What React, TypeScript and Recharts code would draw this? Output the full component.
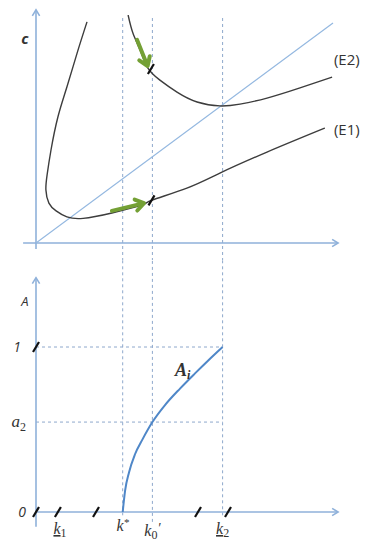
import React from 'react'
import {
  ComposedChart,
  Line,
  XAxis,
  YAxis,
  ReferenceLine,
  ReferenceDot
} from 'recharts'

// key abscissas (shared by both panels)
const kStar = 2.89
const k0 = 3.88
const k1 = 0.8
const k2 = 6.22
const a2 = 0.545

// top panel: (E1), (E2) loci and the 45° line
const e1Curve = [
  { x: 1.7, y: 7.37 }, { x: 1.37, y: 6.33 }, { x: 1.03, y: 5.2 },
  { x: 0.73, y: 4.2 }, { x: 0.5, y: 3.1 }, { x: 0.37, y: 2.27 },
  { x: 0.33, y: 1.77 }, { x: 0.43, y: 1.33 }, { x: 0.67, y: 1.07 },
  { x: 1.03, y: 0.87 }, { x: 1.57, y: 0.82 }, { x: 2.53, y: 1.0 },
  { x: 3.53, y: 1.27 }, { x: 3.87, y: 1.43 }, { x: 5.03, y: 1.83 },
  { x: 6.13, y: 2.33 }, { x: 7.7, y: 3.03 }, { x: 9.63, y: 3.83 }
]
const e2Curve = [
  { x: 3.07, y: 7.6 }, { x: 3.23, y: 7.0 }, { x: 3.47, y: 6.43 },
  { x: 3.73, y: 5.83 }, { x: 4.13, y: 5.43 }, { x: 4.7, y: 5.03 },
  { x: 5.37, y: 4.7 }, { x: 6.13, y: 4.57 }, { x: 6.8, y: 4.63 },
  { x: 7.7, y: 4.83 }, { x: 8.8, y: 5.17 }, { x: 9.87, y: 5.53 }
]
const diagonal = [{ x: 0, y: 0 }, { x: 9.9, y: 7.33 }]
const greenArrows = [
  { from: { x: 3.37, y: 6.77 }, to: { x: 3.72, y: 5.9 } },
  { from: { x: 2.53, y: 1.07 }, to: { x: 3.6, y: 1.33 } }
]
const curveMarks = [{ x: 3.83, y: 5.8 }, { x: 3.85, y: 1.42 }]

// bottom panel: A_i
const aiCurve = [
  { x: kStar, y: 0 }, { x: 2.97, y: 0.13 }, { x: 3.1, y: 0.24 },
  { x: 3.3, y: 0.35 }, { x: 3.55, y: 0.44 }, { x: k0, y: a2 },
  { x: 4.3, y: 0.648 }, { x: 4.8, y: 0.748 }, { x: 5.3, y: 0.84 },
  { x: 5.75, y: 0.92 }, { x: k2, y: 1 }
]
const guideXs = [kStar, k0, k2]
const axisSlashes = [0, 0.73, 2.0, 5.4, 6.4]
const xTickLabels = [
  { value: k1, base: 'k', sub: '1', under: true, dy: 22 },
  { value: kStar, base: 'k', sup: '*', dy: 19 },
  { value: k0, base: 'k', sub: '0', prime: true, dy: 24 },
  { value: k2, base: 'k', sub: '2', under: true, dy: 22 }
]
const yTickLabels = [
  { value: 0, text: '0', dx: 4 },
  { value: a2, text: 'a', sub: '2', dx: 4 },
  { value: 1, text: '1', dx: -1 }
]

const AXIS = '#8fb1da'
const GUIDE = '#8ea8cc'
const CURVE = '#3d3d3d'
const GREEN = '#74a035'
const SERIF = 'Liberation Serif, DejaVu Serif, serif'
const SANS = 'Open Sans, Liberation Sans, sans-serif'

const AxisArrow = (p: any) => {
  const { x1, y1, x2, y2 } = p
  const ang = Math.atan2(y2 - y1, x2 - x1)
  const h = 7
  const ax = x2 - h * Math.cos(ang - 0.55)
  const ay = y2 - h * Math.sin(ang - 0.55)
  const bx = x2 - h * Math.cos(ang + 0.55)
  const by = y2 - h * Math.sin(ang + 0.55)
  return (
    <g stroke={AXIS} strokeWidth={1.6} fill="none">
      <line x1={x1} y1={y1} x2={x2} y2={y2} />
      <polyline points={`${ax},${ay} ${x2},${y2} ${bx},${by}`} />
    </g>
  )
}

const GreenArrow = (p: any) => {
  const { x1, y1, x2, y2 } = p
  const ang = Math.atan2(y2 - y1, x2 - x1)
  const h = 10
  const ax = x2 - h * Math.cos(ang - 0.6)
  const ay = y2 - h * Math.sin(ang - 0.6)
  const bx = x2 - h * Math.cos(ang + 0.6)
  const by = y2 - h * Math.sin(ang + 0.6)
  return (
    <g stroke={GREEN} strokeWidth={4} fill="none" strokeLinecap="round" strokeLinejoin="round">
      <line x1={x1} y1={y1} x2={x2 - 2 * Math.cos(ang)} y2={y2 - 2 * Math.sin(ang)} />
      <polyline points={`${ax},${ay} ${x2},${y2} ${bx},${by}`} />
    </g>
  )
}

const Slash = (p: any) => (
  <line
    x1={p.cx - 3}
    y1={p.cy + 5}
    x2={p.cx + 3}
    y2={p.cy - 5}
    stroke="#111"
    strokeWidth={2.2}
  />
)

const textShape = (content: React.ReactNode, extra: any = {}) => (p: any) => (
  <text x={p.cx} y={p.cy} dominantBaseline="middle" fill="#333" {...extra}>
    {content}
  </text>
)

const KTick = (p: any) => {
  const item = xTickLabels.find(t => Math.abs(t.value - p.payload.value) < 1e-6)
  if (!item) return null
  return (
    <text
      x={p.x}
      y={p.y - 8 + item.dy}
      textAnchor="middle"
      fontFamily={SERIF}
      fontStyle="italic"
      fontSize={16}
      fill="#333"
    >
      <tspan textDecoration={item.under ? 'underline' : undefined}>{item.base}</tspan>
      {item.sub && <tspan fontSize={12} dy={3} fontStyle="normal">{item.sub}</tspan>}
      {item.prime && <tspan dy={-6} fontSize={14}>′</tspan>}
      {item.sup && <tspan dy={-5} fontSize={11}>{item.sup}</tspan>}
    </text>
  )
}

const ATick = (p: any) => {
  const item = yTickLabels.find(t => Math.abs(t.value - p.payload.value) < 1e-6)
  if (!item) return null
  if (item.sub) {
    return (
      <text x={p.x - 6 + item.dx} y={p.y + 5} textAnchor="end" fontFamily={SERIF} fontStyle="italic" fontSize={17} fill="#333">
        {item.text}
        <tspan fontSize={12} dy={4} fontStyle="normal">{item.sub}</tspan>
      </text>
    )
  }
  return (
    <text x={p.x - 6 + item.dx} y={p.y + 5} textAnchor="end" fontFamily={SANS} fontStyle="italic" fontSize={14} fill="#333">
      {item.text}
    </text>
  )
}

export default function App() {
  return (
    <div style={{ position: 'absolute', left: 0, top: 0, width: 368, height: 543, background: '#fff' }}>
      <div style={{ position: 'absolute', left: 0, top: 0 }}>
        <ComposedChart width={368} height={260} margin={{ top: 15, right: 32, bottom: 17, left: 36 }}>
          <XAxis type="number" dataKey="x" domain={[0, 10]} hide allowDataOverflow />
          <YAxis type="number" domain={[0, 7.6]} hide allowDataOverflow />
          {guideXs.map(x => (
            <ReferenceLine
              key={`g-${x}`}
              segment={[{ x, y: -0.6 }, { x, y: 7.55 }]}
              stroke={GUIDE}
              strokeDasharray="3 3"
              ifOverflow="visible"
            />
          ))}
          <ReferenceLine segment={[{ x: 0, y: -0.2 }, { x: 0, y: 7.77 }]} shape={AxisArrow} ifOverflow="visible" />
          <ReferenceLine segment={[{ x: -0.43, y: 0 }, { x: 10.07, y: 0 }]} shape={AxisArrow} ifOverflow="visible" />
          <Line data={diagonal} dataKey="y" type="linear" stroke="#94b8e0" strokeWidth={1.2} dot={false} isAnimationActive={false} />
          <Line data={e1Curve} dataKey="y" type="natural" stroke={CURVE} strokeWidth={1.4} dot={false} isAnimationActive={false} />
          <Line data={e2Curve} dataKey="y" type="natural" stroke={CURVE} strokeWidth={1.4} dot={false} isAnimationActive={false} />
          {greenArrows.map((a, i) => (
            <ReferenceLine key={`ga-${i}`} segment={[a.from, a.to]} shape={GreenArrow} ifOverflow="visible" />
          ))}
          {curveMarks.map((m, i) => (
            <ReferenceDot key={`cm-${i}`} x={m.x} y={m.y} r={1} shape={Slash} ifOverflow="visible" />
          ))}
          <ReferenceDot x={-0.37} y={6.77} r={1} ifOverflow="visible"
            shape={textShape('c', { fontFamily: SANS, fontStyle: 'italic', fontWeight: 'bold', fontSize: 15, textAnchor: 'middle' })} />
          <ReferenceDot x={9.93} y={6.07} r={1} ifOverflow="visible"
            shape={textShape('(E2)', { fontFamily: SANS, fontSize: 15 })} />
          <ReferenceDot x={9.93} y={3.73} r={1} ifOverflow="visible"
            shape={textShape('(E1)', { fontFamily: SANS, fontSize: 15 })} />
        </ComposedChart>
      </div>
      <div style={{ position: 'absolute', left: 0, top: 260 }}>
        <ComposedChart width={368} height={283} margin={{ top: 21, right: 32, bottom: 0, left: 0 }}>
          <XAxis
            type="number"
            dataKey="x"
            domain={[0, 10]}
            ticks={xTickLabels.map(t => t.value)}
            tick={KTick}
            interval={0}
            axisLine={false}
            tickLine={false}
            height={31}
            allowDataOverflow
          />
          <YAxis
            type="number"
            domain={[0, 1.4]}
            ticks={yTickLabels.map(t => t.value)}
            tick={ATick}
            interval={0}
            axisLine={false}
            tickLine={false}
            width={36}
            allowDataOverflow
          />
          {guideXs.map(x => (
            <ReferenceLine
              key={`gb-${x}`}
              segment={[{ x, y: x === k0 ? -0.06 : -0.02 }, { x, y: 1.53 }]}
              stroke={GUIDE}
              strokeDasharray="3 3"
              ifOverflow="visible"
            />
          ))}
          {[1, a2].map(y => (
            <ReferenceLine
              key={`h-${y}`}
              segment={[{ x: 0, y }, { x: k2, y }]}
              stroke={GUIDE}
              strokeDasharray="3 3"
              ifOverflow="visible"
            />
          ))}
          <ReferenceLine segment={[{ x: 0, y: -0.09 }, { x: 0, y: 1.42 }]} shape={AxisArrow} ifOverflow="visible" />
          <ReferenceLine segment={[{ x: 0, y: 0 }, { x: 10.07, y: 0 }]} shape={AxisArrow} ifOverflow="visible" />
          <Line data={aiCurve} dataKey="y" type="monotone" stroke="#4f87c8" strokeWidth={2} dot={false} isAnimationActive={false} />
          {axisSlashes.map(x => (
            <ReferenceDot key={`s-${x}`} x={x} y={0} r={1} shape={Slash} ifOverflow="visible" />
          ))}
          <ReferenceDot x={0} y={1} r={1} shape={Slash} ifOverflow="visible" />
          <ReferenceDot x={-0.37} y={1.267} r={1} ifOverflow="visible"
            shape={textShape('A', { fontFamily: SANS, fontStyle: 'italic', fontSize: 13, textAnchor: 'middle' })} />
          <ReferenceDot x={4.63} y={0.85} r={1} ifOverflow="visible"
            shape={textShape(
              <>
                <tspan>A</tspan>
                <tspan fontSize={12} dy={4}>i</tspan>
              </>,
              { fontFamily: SERIF, fontStyle: 'italic', fontWeight: 'bold', fontSize: 18 }
            )} />
        </ComposedChart>
      </div>
    </div>
  )
}
